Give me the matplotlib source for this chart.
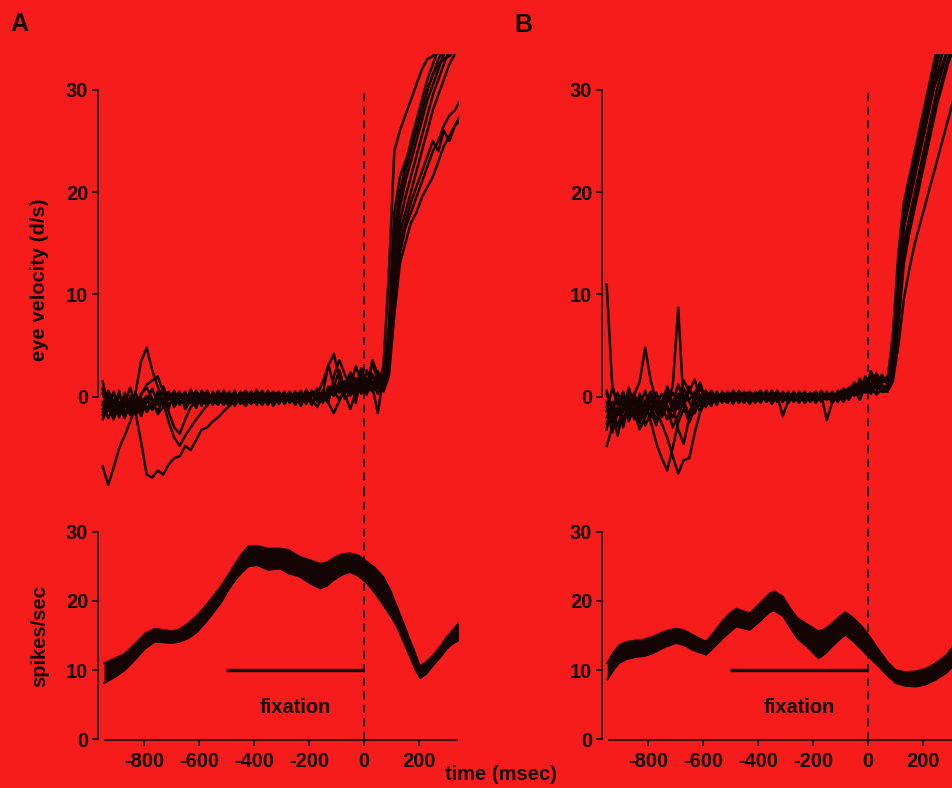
import numpy as np
import matplotlib
matplotlib.use("Agg")
import matplotlib.pyplot as plt

# ---------------- data ----------------
# sampling times (ms) of the eye-velocity traces
t_eye = np.arange(-950, 351, 20)

# Panel A eye-velocity traces (deg/s)
eyeA = [
    [-6.8, -8.6, -6.9, -5.0, -3.8, -2.4, -1.0, 0.3, 0.9, -0.2, -0.8,
     -0.3, 0.4, -0.6, 0.2, -0.9, -0.1, 0.5, -0.7, 0.1, -0.4, 0.6,
     -0.5, 0.2, -0.8, 0.3, -0.2, 0.5, -0.6, 0.1, -0.3, 0.4, -0.7,
     0.2, -0.4, 0.5, -0.2, 0.3, -0.6, 0.4, -0.1, 0.7, 0.2, 1.2,
     0.5, 1.3, 0.8, 1.6, 1.1, 1.9, 1.4,
     2.0, 6.0, 16.0, 20.0, 22.5, 25.0, 27.0, 29.0, 31.0, 32.5, 34.0, 35.0, 36.0, 37.0, 38.0],
    [-1.8, -0.6, -1.5, 0.2, -1.0, -0.2, -1.6, -4.5, -7.6, -7.9, -7.2,
     -7.6, -6.6, -6.0, -5.8, -4.8, -5.2, -4.2, -3.2, -3.0, -2.4, -2.0,
     -1.4, -0.9, -0.4, 0.1, -0.5, 0.3, -0.2, -0.8, 0.2, -0.4, 0.1,
     -0.6, 0.3, -0.3, 0.4, -0.5, 0.2, -0.3, 0.6, -0.2, 0.9, 0.4,
     1.5, 0.6, 1.2, 0.3, 1.5, 0.9, 1.7,
     1.0, 5.0, 14.0, 18.5, 21.0, 23.0, 25.0, 27.0, 29.0, 30.5, 32.0, 33.5, 35.0, 36.0, 37.0],
    [-1.2, 0.3, -1.9, -0.5, -1.3, -1.6, 0.5, 3.5, 4.8, 2.6, 1.0,
     -0.5, -2.5, -4.0, -4.8, -3.8, -3.0, -2.2, -1.5, -0.8, -0.2, 0.4,
     -0.3, 0.5, -0.4, 0.2, -0.7, 0.4, -0.1, 0.6, -0.5, 0.1, 0.5,
     -0.4, 0.1, -0.7, 0.3, -0.1, 0.5, -0.5, 0.2, 3.2, 1.0, 2.6,
     0.8, 2.0, 0.2, 1.0, 1.8, 0.6, 1.2,
     1.5, 4.0, 12.0, 17.0, 19.5, 21.5, 23.5, 25.5, 27.5, 29.5, 31.0, 32.5, 34.0, 35.0, 36.0],
    [0.8, -1.4, -0.3, -2.0, -0.6, 0.9, -0.9, 0.2, 1.2, 1.6, 2.0,
     0.5, -1.5, -3.0, -3.6, -2.2, -1.0, -0.4, 0.3, -0.6, 0.2, -0.5,
     0.4, -0.3, 0.2, -0.6, 0.3, -0.2, 0.5, -0.4, 0.2, -0.6, 0.3,
     -0.2, 0.5, -0.1, 0.6, -0.4, 0.1, 0.8, -0.3, 0.5, 0.1, 0.9,
     -0.2, 0.4, 1.2, 0.5, 2.6, 1.0, -1.6,
     2.0, 3.0, 11.0, 16.0, 18.0, 20.0, 22.0, 24.0, 26.0, 28.0, 29.5, 31.0, 32.5, 33.5, 35.0],
    [-0.5, -2.1, -0.9, -1.5, 0.4, -1.2, -0.2, -1.4, -0.4, 0.8, -0.6,
     1.0, -0.3, 0.6, -0.8, 0.3, -0.4, 0.2, -0.9, 0.4, -0.3, -0.8,
     0.1, -0.6, 0.4, -0.3, -0.9, 0.2, -0.5, 0.3, -0.8, 0.1, -0.4,
     0.4, -0.6, 0.2, -0.9, 0.3, -0.4, 0.2, 1.5, 3.0, 4.2, 1.8,
     0.2, -1.2, 0.5, 1.4, 0.2, 3.4, 1.5,
     1.0, 2.5, 9.0, 14.0, 16.5, 18.0, 19.5, 21.0, 22.5, 24.0, 25.0, 26.5, 27.5, 28.0, 29.0],
    [0.3, -1.1, -2.2, -0.8, -1.7, -0.4, -1.1, -0.3, -1.5, -0.7, 0.3,
     -0.9, 0.2, -1.0, -0.1, 0.5, -0.6, -0.2, 0.4, -0.7, 0.3, -0.1,
     -0.8, 0.3, -0.4, 0.5, -0.2, -0.7, 0.2, -0.4, 0.4, -0.9, 0.0,
     -0.5, 0.2, -0.8, 0.4, -0.3, 0.6, -0.2, 0.3, -0.6, 2.0, 3.6,
     2.2, 0.9, 3.0, 1.5, 0.6, 3.6, 2.2,
     0.5, 2.0, 8.0, 13.0, 15.0, 17.0, 18.0, 19.5, 20.5, 21.5, 23.0, 24.5, 25.5, 26.5, 27.0],
    [-1.5, -0.2, -1.2, 0.6, -2.0, -0.8, 0.4, -1.0, 0.0, -1.3, -0.2,
     0.3, -0.8, -0.1, 0.5, -1.2, -0.3, 0.6, -0.2, -0.9, 0.5, -0.3,
     0.6, -0.2, -0.7, 0.4, 0.1, -0.4, 0.7, -0.6, -0.1, 0.5, -0.3,
     0.3, -0.2, 0.5, -0.4, 0.7, -0.3, -1.0, 0.1, -0.6, -1.6, -0.4,
     0.9, 1.6, -0.6, 2.2, 0.9, 1.5, 0.3,
     1.5, 7.0, 18.0, 21.5, 23.0, 24.5, 26.0, 28.0, 30.0, 31.5, 32.5, 33.0, 33.3, 34.0, 35.0],
    [1.5, -0.9, 0.4, -1.4, -0.5, -1.8, -0.7, -1.9, -0.3, -1.2, 0.5,
     -0.4, -1.1, 0.3, -0.5, -0.2, 0.4, -0.9, 0.1, 0.3, -0.8, 0.2,
     -0.3, -0.9, 0.1, -0.5, 0.4, -0.1, -0.8, 0.4, -0.2, 0.2, -0.6,
     -0.1, 0.4, -0.5, 0.1, -0.7, 0.3, 0.1, -0.6, 1.0, 0.3, 1.5,
     1.0, 2.4, 1.4, 0.6, 1.3, 2.2, 0.8,
     3.0, 12.0, 24.0, 26.0, 27.5, 29.0, 30.5, 32.0, 33.0, 33.3, 34.0, 35.0, 36.0, 37.0, 38.0],
    [-0.8, 0.6, -0.5, -1.7, 0.2, -0.9, -1.5, -0.1, -1.1, -0.5, -1.4,
     -0.2, 0.5, -0.7, 0.1, -0.6, 0.7, -0.4, -0.1, 0.6, -0.6, 0.3,
     -0.2, 0.4, -0.9, 0.0, 0.6, -0.5, 0.2, -0.3, 0.6, -0.2, 0.4,
     -0.7, 0.0, 0.3, -0.3, 0.2, -0.8, 0.4, -0.1, 0.2, 0.6, -0.3,
     0.7, 0.1, 1.8, 0.9, 0.4, 1.1, 2.5,
     1.2, 5.5, 15.0, 19.5, 22.0, 24.0, 26.0, 28.0, 30.0, 31.5, 33.0, 34.0, 35.0, 36.0, 37.0],
    [-2.2, -1.0, 0.5, -0.9, -2.1, 0.1, -1.8, -0.6, 0.1, -0.4, -1.7,
     -1.0, 0.1, -0.5, 0.3, -0.7, 0.0, -1.1, 0.6, -0.3, 0.1, -0.6,
     0.3, -0.6, 0.6, -0.7, -0.1, 0.5, -0.4, 0.0, -0.6, 0.3, -0.2,
     0.5, -0.5, 0.1, 0.2, -0.6, 0.4, -0.4, 0.5, -0.2, 1.2, 0.6,
     1.1, 0.3, 0.9, 2.8, 1.2, 0.5, 1.3,
     0.8, 3.5, 10.0, 15.0, 17.0, 19.0, 20.5, 22.0, 23.5, 25.0, 24.0, 26.0, 25.0, 26.5, 27.5],
]

# Panel B eye-velocity traces (deg/s)
eyeB = [
    [11.0, 1.2, -0.8, 0.5, -1.9, -0.4, -2.6, -1.0, 0.2, -1.5, -0.5,
     0.8, -1.3, 0.3, -0.9, 0.6, -0.2, 0.9, -0.5, 0.3, -0.8, 0.4,
     -0.3, 0.6, -0.5, 0.2, -0.6, 0.5, -0.1, 0.3, -0.5, 0.4, -0.2,
     0.5, -0.4, 0.2, -0.5, 0.3, -0.3, 0.6, -0.2, 0.4, -0.1, 0.3,
     0.6, 1.4, 0.8, 1.7, 1.2, 2.3, 1.4,
     1.5, 6.0, 14.0, 19.0, 21.5, 24.0, 26.5, 29.0, 31.5, 34.0, 36.0, 37.0, 38.0, 39.0, 40.0],
    [-0.5, -2.5, -1.0, -3.0, -0.6, -1.8, 0.3, -1.2, -2.0, -0.3, -1.5,
     -0.4, 1.0, 8.7, -1.0, -2.5, -1.2, 0.2, -0.8, 0.4, -0.3, 0.2,
     -0.5, 0.3, -0.2, 0.5, -0.4, 0.1, -0.6, 0.4, -0.1, 0.2, -0.5,
     0.3, -0.2, 0.4, -0.6, 0.1, 0.5, -0.3, 0.2, -0.4, 0.6, 0.0,
     0.4, 1.0, 0.2, 1.5, 2.0, 1.1, 0.6,
     1.0, 4.0, 12.0, 18.0, 20.5, 23.0, 25.5, 28.0, 30.5, 33.0, 35.0, 36.0, 37.0, 38.0, 39.0],
    [-1.0, -3.5, -1.5, -0.2, -1.4, 0.2, 1.5, 4.8, 1.6, -0.5, -2.0,
     -1.0, -3.0, -1.8, -0.5, 1.0, -0.6, -1.4, 0.1, -0.7, 0.3, -0.4,
     0.2, -0.7, 0.4, -0.3, 0.2, -0.5, 0.3, -0.2, 0.6, -0.4, 0.1,
     -0.3, 0.4, -0.1, 0.2, -0.4, 0.3, -0.2, 0.5, -0.3, 0.2, -0.5,
     0.3, 0.9, 1.3, 0.5, 1.9, 0.8, 1.5,
     2.0, 3.0, 10.0, 16.5, 19.0, 21.5, 24.0, 26.5, 29.0, 31.5, 33.5, 35.0, 36.0, 37.0, 38.0],
    [0.3, -1.2, -0.2, -2.2, -1.0, 0.4, -1.6, -0.5, -2.4, -4.5, -6.0,
     -7.2, -5.0, -2.5, -1.2, -2.0, 0.5, -0.9, 0.6, -0.4, 0.2, -0.6,
     0.4, -0.2, 0.1, -0.6, 0.3, -0.2, 0.5, -0.5, 0.2, -0.3, 0.5,
     -0.2, 0.1, -0.6, 0.4, -0.1, 0.3, -0.5, 0.1, -0.3, 0.4, -0.2,
     0.1, 0.6, -0.3, 1.0, 0.5, 1.6, 0.9,
     1.0, 2.5, 8.0, 15.0, 17.5, 20.0, 22.5, 25.0, 27.5, 30.0, 32.0, 34.0, 35.0, 36.0, 37.0],
    [-2.0, -0.8, -2.9, -1.0, 0.2, -2.2, -0.6, -1.8, -0.3, -1.4, -2.6,
     -4.0, -5.8, -7.5, -6.2, -6.0, -3.5, -1.5, -0.3, -0.9, 0.4, -0.2,
     -0.6, 0.2, -0.4, 0.3, -0.5, 0.2, -0.1, 0.4, -0.7, 0.1, -1.9,
     -0.4, 0.3, -0.2, 0.5, -0.3, 0.0, 0.4, -0.3, 0.2, -0.5, 0.3,
     -0.2, 0.5, 1.2, 0.4, 1.0, 0.2, 0.7,
     0.5, 2.0, 7.0, 13.0, 16.0, 18.5, 21.0, 23.5, 26.0, 28.5, 30.5, 32.5, 34.0, 35.0, 36.0],
    [-4.8, -3.0, -1.2, -2.5, -0.4, -1.6, -3.2, -2.0, -0.8, -2.2, -1.0,
     0.2, -1.4, -0.5, 1.6, 0.5, 1.7, -0.2, -1.0, 0.3, -0.5, 0.1,
     -0.4, 0.5, -0.3, 0.1, -0.7, 0.3, -0.2, 0.6, -0.4, 0.2, 0.0,
     0.3, -0.5, 0.2, -0.1, 0.4, -0.6, 0.2, -2.3, -0.5, 0.2, 0.8,
     0.4, 1.1, 0.6, 1.4, 0.3, 1.2, 0.5,
     0.5, 1.5, 5.0, 9.5, 12.5, 15.0, 17.0, 19.0, 21.0, 23.0, 25.0, 27.0, 29.0, 31.0, 33.0],
    [-3.2, -0.5, -1.8, 0.3, -2.4, -1.1, -0.2, -2.8, -1.6, 0.4, -0.9,
     -2.2, -0.6, 1.2, -0.4, -1.8, 0.3, 1.4, -0.5, 0.2, -0.6, 0.5,
     -0.1, 0.4, -0.6, 0.2, 0.5, -0.3, 0.3, -0.4, 0.1, 0.5, -0.3,
     0.1, -0.4, 0.5, -0.2, 0.1, -0.4, 0.3, -0.1, 0.5, -0.3, 0.2,
     0.9, 0.4, 1.8, 0.7, 2.5, 1.3, 1.8,
     1.5, 5.0, 13.0, 18.5, 21.0, 23.5, 26.0, 28.5, 31.0, 33.5, 36.0, 37.0, 38.0, 39.0, 40.0],
    [0.6, -1.6, -3.8, -1.2, -0.3, -2.0, -1.0, 0.6, -1.3, -2.8, -0.6,
     1.0, -0.8, -3.2, -4.6, -2.0, -0.4, 0.8, 0.2, -0.6, 0.5, -0.3,
     0.3, -0.5, 0.6, -0.2, 0.2, -0.6, 0.4, 0.0, 0.3, -0.5, 0.2,
     -0.6, 0.2, -0.3, 0.5, -0.5, 0.2, -0.1, 0.3, -0.6, 0.1, 0.5,
     -0.3, 0.8, 0.3, 1.3, 0.9, 1.9, 1.1,
     1.0, 3.5, 11.0, 17.0, 19.5, 22.0, 24.5, 27.0, 29.5, 31.0, 32.5, 34.0, 35.0, 36.0, 37.0],
    [-1.4, 0.8, -0.7, -1.5, 0.9, -0.8, -1.9, -0.4, 0.5, -1.0, -1.8,
     -0.5, 0.4, -1.2, 0.2, -0.5, -1.6, -0.3, 0.5, -0.2, 0.4, -0.5,
     0.5, -0.1, 0.3, -0.5, 0.1, 0.4, -0.4, 0.2, -0.2, 0.6, -0.4,
     0.2, -0.3, 0.0, 0.4, -0.2, 0.5, -0.4, 0.2, 0.1, -0.4, 0.5,
     0.2, 1.2, 0.4, 2.0, 0.8, 0.4, 2.2,
     1.2, 4.5, 12.5, 17.5, 20.0, 22.5, 25.0, 27.5, 30.0, 32.5, 34.5, 36.0, 37.0, 38.0, 39.0],
    [-2.6, -1.2, 0.4, -0.9, -1.6, -0.2, -2.1, -1.2, -0.1, -0.8, 0.3,
     -0.9, -2.0, -0.6, 0.8, -0.3, 0.4, -0.8, -0.2, 0.6, -0.2, 0.3,
     -0.5, 0.6, -0.3, 0.4, -0.2, 0.1, 0.6, -0.5, 0.3, -0.1, 0.4,
     -0.4, 0.5, -0.2, 0.3, -0.5, 0.4, -0.2, 0.0, -0.4, 0.3, -0.1,
     0.5, 0.1, 0.9, 1.6, 0.6, 1.8, 1.0,
     0.8, 2.5, 9.0, 14.0, 16.5, 19.0, 21.5, 24.0, 26.5, 29.0, 31.0, 33.0, 34.5, 35.5, 36.5],
]

# Firing-rate bands (spikes/sec): time, upper and lower edge of the trace bundle
rateA_t = [-945, -905, -869, -830, -796, -760, -730, -699, -670, -639, -610, -578,
           -548, -518, -490, -469, -445, -421, -390, -348, -305, -275, -233, -195,
           -160, -135, -112, -80, -51, -20, 10, 40, 70, 95, 119, 145, 167, 187,
           204, 225, 252, 278, 301, 322, 343]
rateA_hi = [11.0, 11.7, 12.4, 13.9, 15.3, 16.0, 15.8, 15.6, 15.9, 16.8, 17.8, 19.2,
            20.7, 22.3, 24.0, 25.4, 26.8, 27.9, 28.0, 27.6, 27.6, 27.4, 26.4, 25.9,
            25.4, 25.6, 26.2, 26.8, 26.9, 26.6, 25.7, 24.8, 23.5, 21.6, 19.2, 16.6, 14.3, 12.3,
            10.5, 11.2, 12.2, 13.5, 14.8, 15.8, 16.8]
rateA_lo = [8.1, 9.0, 10.0, 11.6, 13.1, 14.1, 14.0, 13.9, 14.1, 14.6, 15.4, 16.8,
            18.3, 19.9, 21.8, 23.0, 24.1, 25.0, 25.2, 24.5, 24.7, 24.0, 23.5, 22.5,
            21.8, 22.2, 23.0, 23.8, 24.2, 23.6, 22.6, 21.1, 19.4, 17.9, 16.3, 13.9, 11.9, 10.0,
            8.8, 9.4, 10.7, 11.9, 13.1, 13.8, 14.3]

rateB_t = [-948, -925, -905, -875, -844, -815, -784, -740, -698, -670, -638, -589,
           -560, -528, -500, -479, -431, -395, -358, -340, -309, -284, -256, -220,
           -180, -155, -131, -105, -83, -55, -22, 10, 39, 70, 100, 135, 173, 210,
           246, 285, 318, 345]
rateB_hi = [11.0, 12.6, 13.6, 14.1, 14.3, 14.4, 14.8, 15.6, 16.0, 15.8, 15.1, 14.1,
            15.5, 17.2, 18.3, 18.9, 18.2, 19.6, 21.1, 21.4, 20.6, 19.0, 17.5, 16.6,
            15.6, 16.0, 16.8, 17.7, 18.4, 17.6, 16.3, 14.6, 12.9, 11.2, 10.0, 9.7, 9.8, 10.2,
            11.0, 12.2, 13.9, 15.2]
rateB_lo = [8.6, 10.0, 11.0, 11.6, 11.9, 12.0, 12.4, 13.3, 13.9, 13.6, 12.9, 12.2,
            13.3, 14.6, 15.6, 16.3, 15.8, 17.0, 18.4, 18.6, 17.8, 16.2, 14.5, 13.3,
            11.7, 12.4, 13.4, 14.4, 15.1, 14.2, 12.9, 11.6, 10.5, 9.2, 8.1, 7.7, 7.6, 7.9,
            8.6, 9.6, 11.0, 12.0]

y_ticks = [0, 10, 20, 30]
x_ticks = [-800, -600, -400, -200, 0, 200]
fix_start, fix_end, fix_level = -500, 0, 10

# ---------------- style ----------------
BG = "#f71c1c"
INK = "#140404"
plt.rcParams["font.family"] = ["Liberation Sans", "DejaVu Sans"]
plt.rcParams["font.weight"] = "bold"
plt.rcParams["axes.unicode_minus"] = False

W, H = 953, 788
fig = plt.figure(figsize=(W / 100, H / 100), dpi=100, facecolor=BG)

XLIM = (-967, 345)
TOP_Y = (-9.5, 33.5)
BOT_Y = (-0.2, 35.5)
TICK_FS = 14.5


def style_axis(ax, bottom_axis):
    ax.set_facecolor(BG)
    ax.patch.set_alpha(0)
    for s in ["top", "right"]:
        ax.spines[s].set_visible(False)
    ax.spines["left"].set_bounds(0, 30)
    ax.spines["left"].set_linewidth(1.2)
    ax.spines["left"].set_color(INK)
    ax.set_yticks(y_ticks)
    ax.tick_params(axis="y", direction="out", length=4, width=1.2, colors=INK,
                   labelsize=TICK_FS, pad=3)
    if bottom_axis:
        ax.spines["bottom"].set_bounds(-942, 338)
        ax.spines["bottom"].set_linewidth(1.2)
        ax.spines["bottom"].set_color(INK)
        ax.set_xticks(x_ticks)
        ax.tick_params(axis="x", direction="out", length=4, width=1.2, colors=INK,
                       labelsize=TICK_FS, pad=4)
    else:
        ax.spines["bottom"].set_visible(False)
        ax.set_xticks([])
    ax.set_xlim(*XLIM)


panels = [
    (98, eyeA, (rateA_t, rateA_lo, rateA_hi)),
    (602, eyeB, (rateB_t, rateB_lo, rateB_hi)),
]

for left, eye, (rt, rlo, rhi) in panels:
    axt = fig.add_axes([left / W, 1 - 494 / H, 361 / W, 440 / H])
    axb = fig.add_axes([left / W, 1 - 740.4 / H, 361 / W, 246.4 / H])
    style_axis(axt, False)
    style_axis(axb, True)
    axt.set_ylim(*TOP_Y)
    axb.set_ylim(*BOT_Y)

    for tr in eye:
        axt.plot(t_eye, tr, color=INK, lw=1.8, solid_joinstyle="round")
    axt.plot([0, 0], [TOP_Y[0], 30], color=INK, lw=1.3, ls=(0, (4.5, 3)))

    axb.fill_between(rt, rlo, rhi, color=INK, lw=0)
    axb.plot(rt, rlo, color=INK, lw=1.3)
    axb.plot(rt, rhi, color=INK, lw=1.3)
    axb.plot([0, 0], [BOT_Y[0], BOT_Y[1]], color=INK, lw=1.3, ls=(0, (4.5, 3)))
    axb.plot([fix_start, fix_end], [fix_level, fix_level], color=INK, lw=2.4,
             solid_capstyle="butt")
    axb.text((fix_start + fix_end) / 2, 4.6, "fixation", ha="center", va="center",
             fontsize=14.5, color=INK)

fig.text(19 / W, 1 - 24 / H, "A", ha="center", va="center", fontsize=18, color=INK)
fig.text(523 / W, 1 - 25 / H, "B", ha="center", va="center", fontsize=18, color=INK)
fig.text(40 / W, 1 - 280 / H, "eye velocity (d/s)", rotation=90, ha="center",
         va="center", fontsize=14.5, color=INK)
fig.text(40 / W, 1 - 636 / H, "spikes/sec", rotation=90, ha="center", va="center",
         fontsize=14.5, color=INK)
fig.text(501 / W, 1 - 775 / H, "time (msec)", ha="center", va="center",
         fontsize=14.5, color=INK)

fig.savefig("out.png", dpi=100, facecolor=BG)
